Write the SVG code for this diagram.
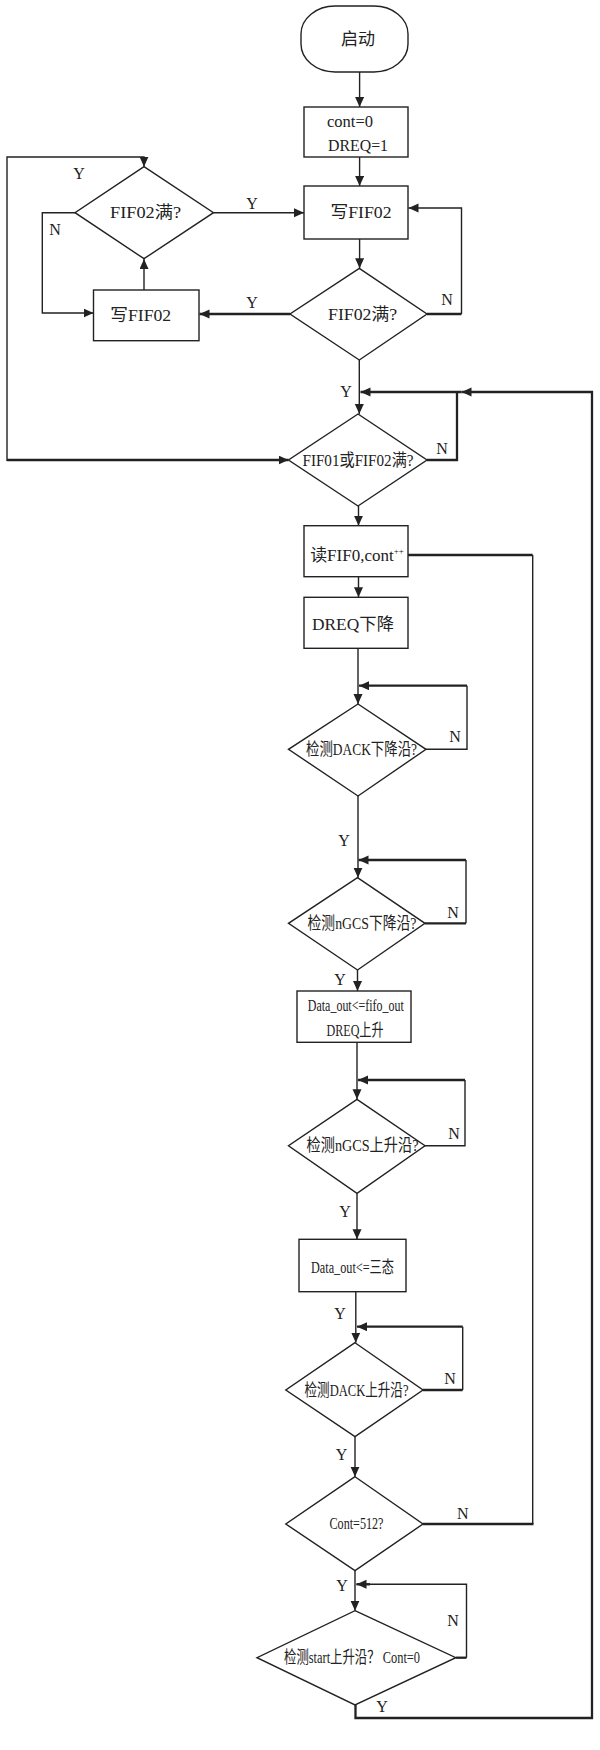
<svg xmlns="http://www.w3.org/2000/svg" width="600" height="1750" viewBox="0 0 600 1750">
<style>
.s{fill:#fff;stroke:#222;stroke-width:1.4}
.t{font-family:"Liberation Serif","Noto Sans CJK SC",serif;font-size:17px;fill:#222;text-anchor:middle}
.l{font-family:"Liberation Serif","Noto Sans CJK SC",serif;font-size:16px;fill:#222;text-anchor:middle}
.c{fill:none;stroke:#222;stroke-width:1.4}
.b{fill:none;stroke:#222;stroke-width:2.3}
.a{marker-end:url(#ah)}
</style>
<defs>
<marker id="ah" markerUnits="userSpaceOnUse" markerWidth="11" markerHeight="10" refX="10" refY="4.5" orient="auto">
<path d="M0,0 L10,4.5 L0,9 z" fill="#222"/>
</marker>
</defs>
<rect width="600" height="1750" fill="#fff"/>
<g id="connectors">
<path class="c a" d="M359.6,72 V107"/>
<path class="c a" d="M359.6,157 V186"/>
<path class="c a" d="M359.6,239 V268.3"/>
<path class="b" d="M427,314 H461.5"/>
<path class="c a" d="M461.5,314 V208 H408.5"/>
<path class="b a" d="M290,314 H199.5"/>
<path class="c a" d="M144,290 V259"/>
<path class="c a" d="M75,212.7 H42.3 V313 H93.5"/>
<path class="c a" d="M213.5,212.7 H304"/>
<path class="b a" d="M7,460 H288.5"/>
<path class="c a" d="M7,461 V157 H144 V166.7"/>
<path class="c a" d="M359.3,360 V414"/>
<path class="b" d="M427,460 H457 V392"/>
<path class="b a" d="M355.5,1705 V1718 H592 V392 H461.5"/>
<path class="b a" d="M461.5,392 H360.5"/>
<path class="c a" d="M358.5,506 V525.7"/>
<path class="b" d="M408,555 H532.7"/>
<path class="c" d="M532.7,555 V1524"/>
<path class="b" d="M423,1524 H533.5"/>
<path class="c a" d="M358.5,576.7 V597.3"/>
<path class="c a" d="M358,648.3 V704"/>
<path class="c" d="M426,749.3 H467 V685.7"/>
<path class="b a" d="M467,685.7 H359"/>
<path class="c a" d="M358,796 V877.7"/>
<path class="b" d="M425,923.3 H466"/>
<path class="c" d="M466,923.3 V860"/>
<path class="b a" d="M466,860 H358.5"/>
<path class="c a" d="M357.5,970 V991"/>
<path class="c a" d="M357,1042.3 V1099.3"/>
<path class="c" d="M425,1145.7 H465 V1080"/>
<path class="b a" d="M465,1080 H358"/>
<path class="c a" d="M357,1193.3 V1239.3"/>
<path class="c a" d="M355.8,1291.7 V1342.7"/>
<path class="b" d="M423,1390 H462.7"/>
<path class="c" d="M462.7,1390 V1326.7"/>
<path class="b a" d="M462.7,1326.7 H357"/>
<path class="c a" d="M355,1436.7 V1476.7"/>
<path class="c a" d="M355,1570.7 V1610.7"/>
<path class="b" d="M455.8,1657.7 H466.5"/>
<path class="c" d="M466.5,1657.7 V1584.3 H356.5"/>
<path class="b a" d="M370,1584.3 H356.5"/>
</g>
<g id="labels">
<text class="l" x="79" y="179">Y</text>
<text class="l" x="252" y="209">Y</text>
<text class="l" x="55" y="235">N</text>
<text class="l" x="252" y="308">Y</text>
<text class="l" x="447" y="305">N</text>
<text class="l" x="346" y="397">Y</text>
<text class="l" x="442" y="454">N</text>
<text class="l" x="455" y="742">N</text>
<text class="l" x="344" y="846">Y</text>
<text class="l" x="453" y="918">N</text>
<text class="l" x="340" y="985">Y</text>
<text class="l" x="454" y="1139">N</text>
<text class="l" x="345" y="1217">Y</text>
<text class="l" x="340" y="1319">Y</text>
<text class="l" x="450" y="1384">N</text>
<text class="l" x="341.5" y="1460">Y</text>
<text class="l" x="462.7" y="1519">N</text>
<text class="l" x="342" y="1591">Y</text>
<text class="l" x="453" y="1626">N</text>
<text class="l" x="382" y="1712">Y</text>
</g>
<g id="start">
<rect class="s" x="301" y="6" width="107" height="66" rx="34" ry="28"/>
<text class="t" x="358" y="45">启动</text>
</g>
<g id="init">
<rect class="s" x="304" y="107" width="104" height="50"/>
<text class="t" x="350" y="127" textLength="46" lengthAdjust="spacingAndGlyphs">cont=0</text>
<text class="t" x="358" y="151" textLength="60" lengthAdjust="spacingAndGlyphs">DREQ=1</text>
</g>
<g id="write1">
<rect class="s" x="304" y="186" width="104" height="53"/>
<text class="t" x="361" y="218" textLength="61" lengthAdjust="spacingAndGlyphs">写FIF02</text>
</g>
<g id="dec_left">
<polygon class="s" points="144,166.7 213.5,212.7 144,258.7 75,212.7"/>
<text class="t" x="145.5" y="218" textLength="71" lengthAdjust="spacingAndGlyphs">FIF02满?</text>
</g>
<g id="write2">
<rect class="s" x="93.5" y="290" width="105.5" height="50.7"/>
<text class="t" x="140.7" y="321" textLength="61" lengthAdjust="spacingAndGlyphs">写FIF02</text>
</g>
<g id="dec_right">
<polygon class="s" points="359.3,268.3 427,314 359.3,360 290,314"/>
<text class="t" x="362.6" y="320" textLength="69" lengthAdjust="spacingAndGlyphs">FIF02满?</text>
</g>
<g id="dec_fifo">
<polygon class="s" points="358,414 427,460 358,506 288.5,460"/>
<text class="t" x="358" y="466" textLength="111" lengthAdjust="spacingAndGlyphs">FIF01或FIF02满?</text>
</g>
<g id="read">
<rect class="s" x="304" y="525.7" width="104" height="51"/>
<text class="t" x="357" y="561">读FIF0,cont<tspan style="font-size:9px" dy="-7">++</tspan></text>
</g>
<g id="dreq_down">
<rect class="s" x="304" y="597.3" width="104" height="51"/>
<text class="t" x="353" y="630" textLength="82" lengthAdjust="spacingAndGlyphs">DREQ下降</text>
</g>
<g id="dec_dack_fall">
<polygon class="s" points="358,704 426,749.3 358,796 288.5,749.3"/>
<text class="t" x="361.5" y="755" textLength="111" lengthAdjust="spacingAndGlyphs">检测DACK下降沿?</text>
</g>
<g id="dec_ngcs_fall">
<polygon class="s" points="357.5,877.7 425,923.3 357.5,970 288.5,923.3"/>
<text class="t" x="362" y="929" textLength="109" lengthAdjust="spacingAndGlyphs">检测nGCS下降沿?</text>
</g>
<g id="data_out">
<rect class="s" x="297" y="991" width="114" height="51.3"/>
<text class="t" x="355.8" y="1011" textLength="96" lengthAdjust="spacingAndGlyphs">Data_out&lt;=fifo_out</text>
<text class="t" x="355" y="1036" textLength="57" lengthAdjust="spacingAndGlyphs">DREQ上升</text>
</g>
<g id="dec_ngcs_rise">
<polygon class="s" points="357,1099.3 425,1145.7 357,1193.3 288.5,1145.7"/>
<text class="t" x="362.5" y="1151" textLength="112" lengthAdjust="spacingAndGlyphs">检测nGCS上升沿?</text>
</g>
<g id="tristate">
<rect class="s" x="299" y="1239.3" width="107" height="52.4"/>
<text class="t" x="352.5" y="1273" textLength="83" lengthAdjust="spacingAndGlyphs">Data_out&lt;=三态</text>
</g>
<g id="dec_dack_rise">
<polygon class="s" points="355,1342.7 423,1390 355,1436.7 285.8,1390"/>
<text class="t" x="356.5" y="1396" textLength="104" lengthAdjust="spacingAndGlyphs">检测DACK上升沿?</text>
</g>
<g id="dec_cont">
<polygon class="s" points="355,1476.7 423,1524 355,1570.7 285.8,1524"/>
<text class="t" x="356.5" y="1529" textLength="54" lengthAdjust="spacingAndGlyphs">Cont=512?</text>
</g>
<g id="dec_start">
<polygon class="s" points="355,1610.7 455.8,1657.7 355,1705 257,1657.7"/>
<text class="t" x="352" y="1663" textLength="136" lengthAdjust="spacingAndGlyphs">检测start上升沿？ Cont=0</text>
</g>
</svg>
